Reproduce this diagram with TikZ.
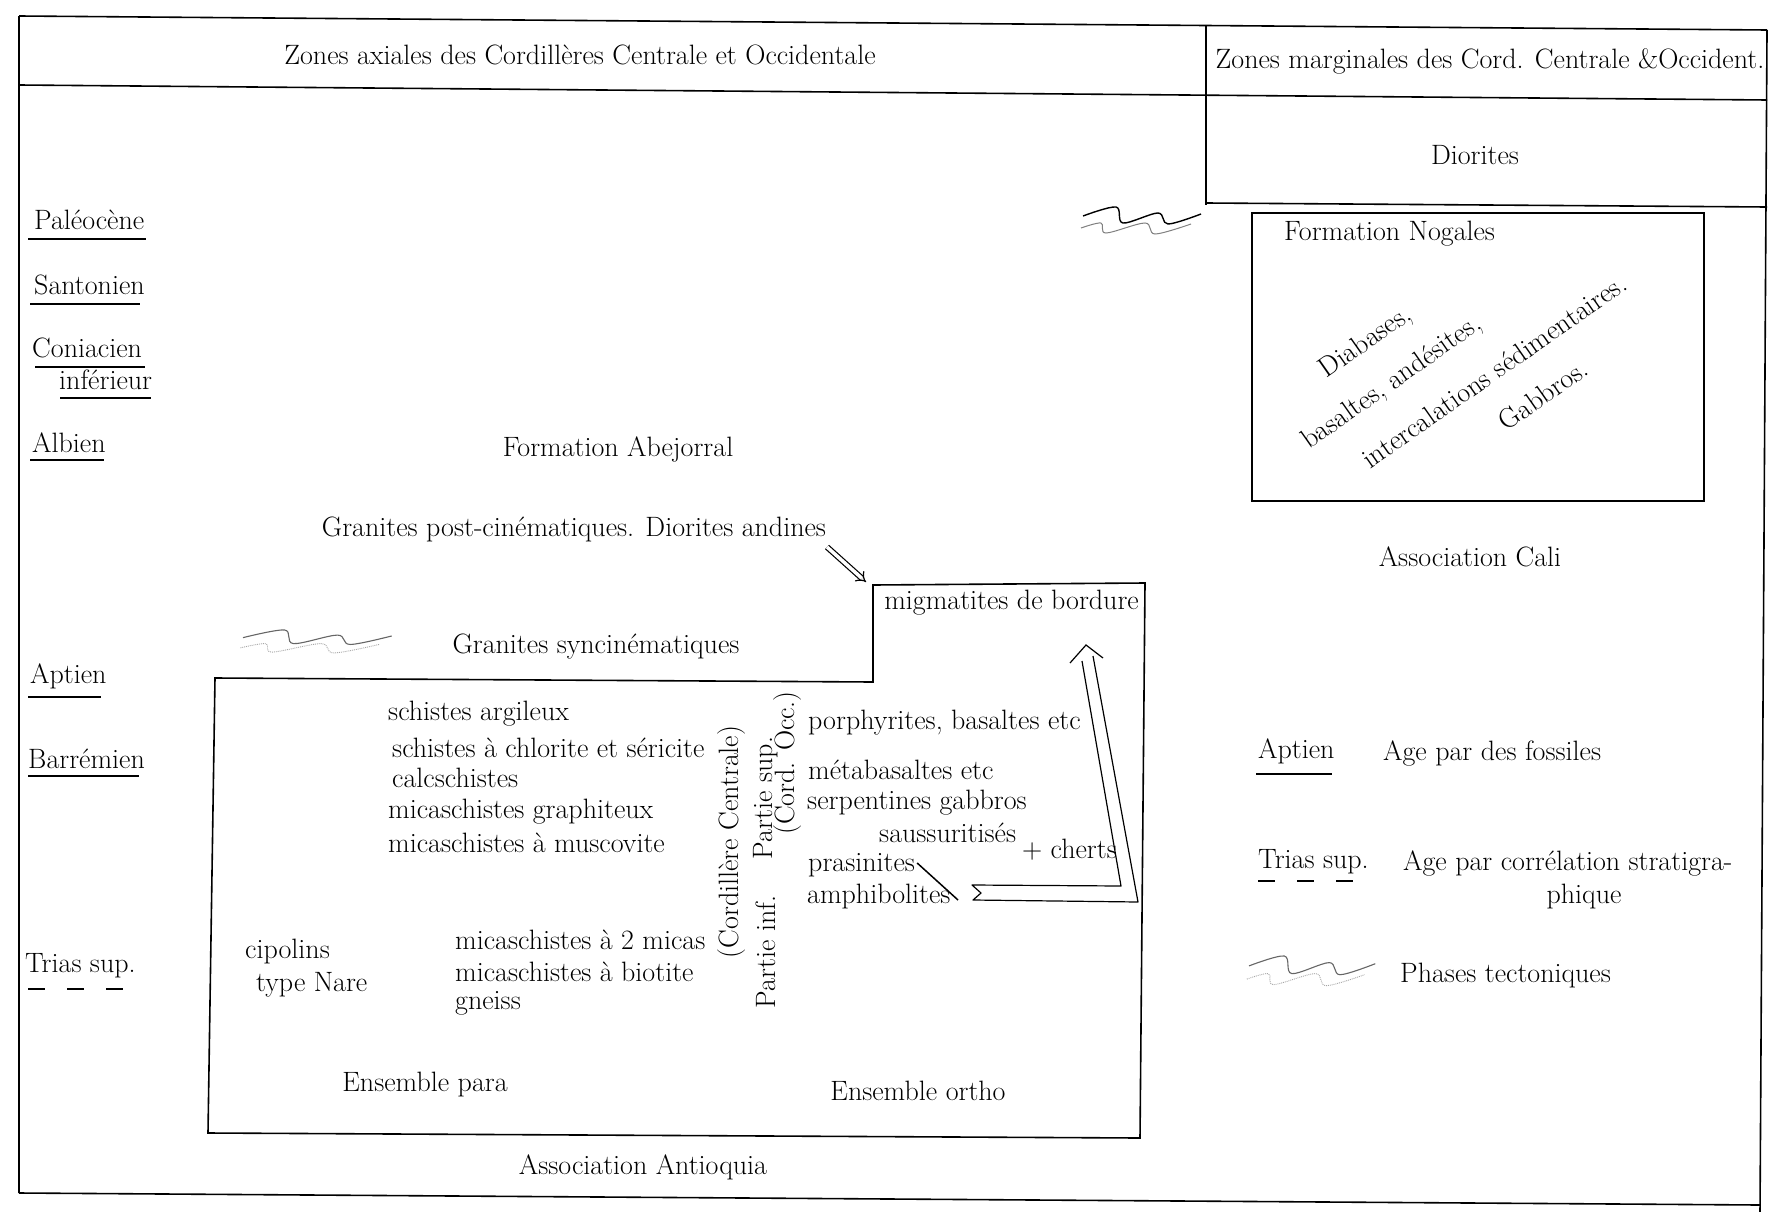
\documentclass[tikz,border=0pt]{standalone}
\usepackage{fontspec}
\usetikzlibrary{arrows.meta}
\begin{document}
\begin{tikzpicture}[x=1pt,y=-1pt,
  every node/.style={font=\fontsize{28}{32}\selectfont, inner sep=0pt},
  frame/.style={line width=1.6pt},
  uline/.style={line width=1.4pt},
  dashline/.style={line width=1.1pt, dash pattern=on 17pt off 22pt},
  lbl/.style={anchor=west},
  vlbl/.style={rotate=90},
  dlbl/.style={rotate=35},
  wavetop/.style={line width=1.1pt, gray!80!black},
  wavebot/.style={line width=0.9pt, gray!70, densely dotted},
  tecwave/.pic={
    \draw[wavetop] plot[smooth,tension=0.55] coordinates {(0,9) (33,0) (40,16) (75,6) (85,17) (118,7)};
    \draw[wavebot] plot[smooth,tension=0.55] coordinates {(-2,21) (18,16) (23,26) (62,16) (72,27) (108,17)};
  }
]
\useasboundingbox (0,0) rectangle (1785,1212);
\fill[white] (0,0) rectangle (1785,1212);

% outer frame and header
\draw[frame] (19,16) -- (1767,30);
\draw[frame] (19,16) -- (19,1193);
\draw[frame] (19,1193) -- (1760,1205);
\draw[frame] (1767,30) -- (1760,1212);
\draw[frame] (19,85) -- (1767,100);
\draw[frame] (1206,26) -- (1206,205);
\draw[frame] (1206,203) -- (1767,207);

\node (hdrA) at (580,55) {Zones axiales des Cordillères Centrale et Occidentale};
\node (hdrB) at (1490,61) {Zones marginales des Cord. Centrale \&Occident.};
\node (dior) at (1475,155) {Diorites};

% stage labels (left)
\node[lbl] (paleo) at (34,220) {Paléocène};
\draw[uline] (28,239) -- (146,239);
\node[lbl] (santo) at (34,285) {Santonien};
\draw[uline] (30,304) -- (140,304);
\node[lbl] (conia) at (32,348) {Coniacien};
\draw[uline] (35,367) -- (145,367);
\node[lbl] (infer) at (59,380) {inférieur};
\draw[uline] (60,398) -- (151,398);
\node[lbl] (albien) at (32,443) {Albien};
\draw[uline] (30,460) -- (104,460);
\node[lbl] (aptL) at (30,676) {Aptien};
\draw[uline] (28,697) -- (101,697);
\node[lbl] (barr) at (28,759) {Barrémien};
\draw[uline] (28,776) -- (139,776);
\node[lbl] (triasL) at (25,966) {Trias sup.};
\draw[dashline] (28,989) -- (130,989);

% central texts
\node (abej) at (618,449) {Formation Abejorral};
\node (granpost) at (574,529) {Granites post-cinématiques. Diorites andines};
\node (gransyn) at (596,647) {Granites syncinématiques};

% Antioquia box
\draw[frame] (215,678) -- (873,682) -- (873,585) -- (1145,583) -- (1140,1138) -- (208,1133) -- cycle;
\node[anchor=east] (migm) at (1139,603) {migmatites de bordure};

\node[lbl] (schA) at (388,714) {schistes argileux};
\node[lbl] (schB) at (392,748) {schistes à chlorite et séricite};
\node[lbl] (calc) at (392,778) {calcschistes};
\node[lbl] (micaG) at (388,812) {micaschistes graphiteux};
\node[lbl] (micaM) at (388,843) {micaschistes à muscovite};
\node[lbl] (cipo) at (245,952) {cipolins};
\node[lbl] (nare) at (256,985) {type Nare};
\node[lbl] (mica2) at (455,940) {micaschistes à 2 micas};
\node[lbl] (micaB) at (455,972) {micaschistes à biotite};
\node[lbl] (gneiss) at (455,1003) {gneiss};

\node[vlbl] (cordC) at (732,842) {(Cordillère Centrale)};
\node[vlbl] (psup) at (766,798) {Partie sup.};
\node[vlbl] (cocc) at (788,763) {(Cord. Occ.)};
\node[vlbl] (pinf) at (766,952) {Partie inf.};

\node[lbl] (porph) at (808,723) {porphyrites, basaltes etc};
\node[lbl] (metab) at (808,770) {métabasaltes etc};
\node[lbl] (serp) at (807,803) {serpentines gabbros};
\node[lbl] (saus) at (879,833) {saussuritisés};
\node[anchor=east] (cherts) at (1117,850) {+ cherts};
\node[lbl] (prasi) at (808,865) {prasinites};
\node[lbl] (amphi) at (807,897) {amphibolites};

\node (epara) at (425,1085) {Ensemble para};
\node (eortho) at (918,1091) {Ensemble ortho};
\node (antio) at (643,1167) {Association Antioquia};

% arrows
\coordinate (andA) at (827,547);
\coordinate (andB) at (866,582);
\draw[double, double distance=3.5pt, line width=1.2pt, -{Implies}] (andA) -- (andB);

\coordinate (prasEnd) at (958,900);
\draw[line width=1.5pt] (prasi.east) ++(2,-2) -- (prasEnd);

\coordinate (hTip) at (1086,645);
\draw[line width=1.2pt, line join=round] (1082,661) -- (1121,886) -- (972,885) -- (981,893) -- (973,900) -- (1138,902) -- (1093,656);
\draw[line width=1.2pt] (1070,663) -- (hTip) -- (1103,658);

% Nogales box
\draw[frame] (1252,213) rectangle (1704,501);
\node[lbl] (nogF) at (1284,234) {Formation Nogales};
\node[dlbl] (diab) at (1366,343) {Diabases,};
\node[dlbl] (basal) at (1392,383) {basaltes, andésites,};
\node[dlbl] (inter) at (1494,371) {intercalations sédimentaires.};
\node[dlbl] (gabb) at (1543,395) {Gabbros.};
\node (cali) at (1470,557) {Association Cali};

% legend
\node[lbl] (aptR) at (1258,751) {Aptien};
\draw[uline] (1256,774) -- (1332,774);
\node[lbl] (ageF) at (1383,753) {Age par des fossiles};
\node[lbl] (triasR) at (1258,862) {Trias sup.};
\draw[dashline] (1258,881) -- (1362,881);
\node[lbl] (ageC) at (1403,863) {Age par corrélation stratigra-};
\node (phique) at (1584,897) {phique};
\node[lbl] (phases) at (1400,976) {Phases tectoniques};

% tectonic phase symbols
\path (1083,207) pic[wavetop/.style={line width=1.4pt, black}, wavebot/.style={line width=1pt, gray}] {tecwave};
\path (243,630) pic[xscale=1.26, yscale=0.85] {tecwave};
\path (1249,956) pic[xscale=1.07, yscale=1.1] {tecwave};
\end{tikzpicture}
\end{document}
